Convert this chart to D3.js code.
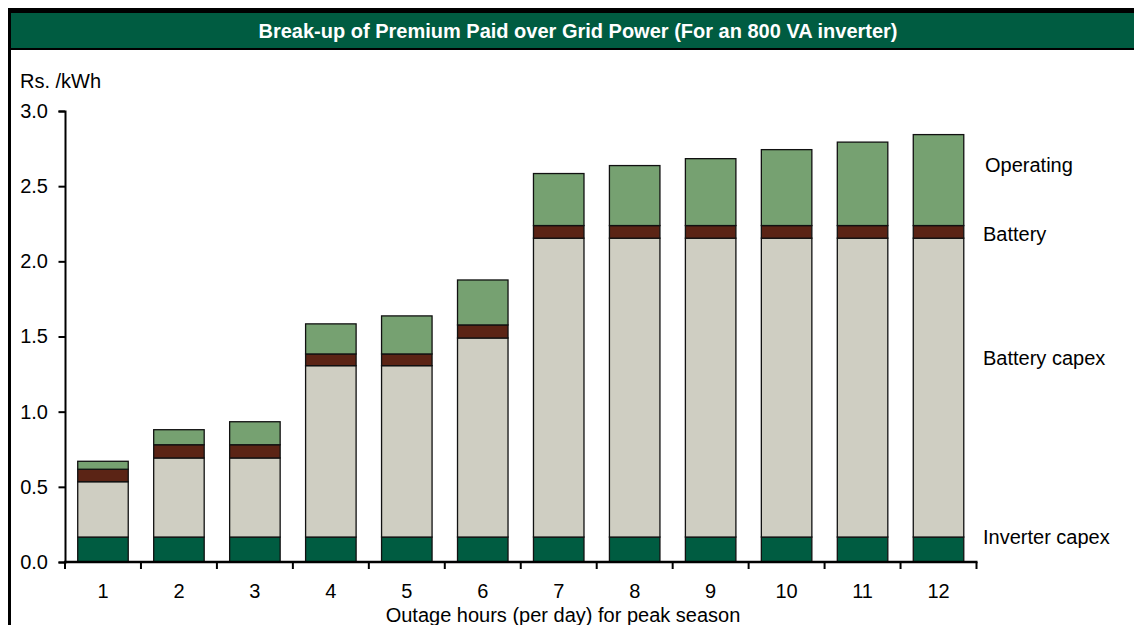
<!DOCTYPE html>
<html>
<head>
<meta charset="utf-8">
<script src="https://cdn.jsdelivr.net/npm/d3@7"></script>
<style>
html,body{margin:0;padding:0;background:#fff;}
svg{display:block;font-family:"Liberation Sans",Arial,sans-serif;}
</style>
</head>
<body>
<svg id="chart" width="1134" height="625"></svg>
<script>
const categories = ["1","2","3","4","5","6","7","8","9","10","11","12"];
const inverterCapex = [0.166,0.166,0.166,0.166,0.166,0.166,0.166,0.166,0.166,0.166,0.166,0.166];
const batteryCapex  = [0.368,0.526,0.526,1.140,1.140,1.324,1.988,1.988,1.988,1.988,1.988,1.988];
const battery       = [0.083,0.088,0.088,0.078,0.078,0.087,0.084,0.084,0.084,0.084,0.084,0.084];
const operating     = [0.053,0.100,0.153,0.200,0.253,0.299,0.346,0.399,0.445,0.505,0.555,0.605];
const seriesNames = ["Inverter capex","Battery capex","Battery","Operating"];
const seriesColors = ["#005c41","#cfcec2","#5b2415","#76a171"];
const yTicks = [0,0.5,1.0,1.5,2.0,2.5,3.0];
const title = "Break-up of Premium Paid over Grid Power (For an 800 VA inverter)";

const svg = d3.select("#chart");
const FS = 20;

// frame & title bar
svg.append("rect").attr("x",8).attr("y",8).attr("width",1126).attr("height",42).attr("fill","#000");
svg.append("rect").attr("x",11).attr("y",13).attr("width",1123).attr("height",35).attr("fill","#005c41");
svg.append("rect").attr("x",8).attr("y",8).attr("width",3).attr("height",617).attr("fill","#000");
svg.append("text").attr("x",578).attr("y",38).attr("text-anchor","middle")
  .attr("fill","#fff").attr("font-weight","bold").attr("font-size",20).text(title);

const x0 = 65, x1 = 976.5, yBase = 562, yTop = 111;
const x = d3.scaleBand().domain(categories).range([x0,x1]).paddingInner(0.335).paddingOuter(0.1675);
const y = d3.scaleLinear().domain([0,3]).range([yBase,yTop]);

const rows = categories.map((c,i)=>({cat:c,"Inverter capex":inverterCapex[i],"Battery capex":batteryCapex[i],"Battery":battery[i],"Operating":operating[i]}));
const stack = d3.stack().keys(seriesNames)(rows);

const g = svg.append("g");
stack.forEach((s,si)=>{
  g.selectAll(null).data(s).enter().append("rect")
    .attr("x",d=>x(d.data.cat))
    .attr("width",x.bandwidth())
    .attr("y",d=>y(d[1]))
    .attr("height",d=>y(d[0])-y(d[1]))
    .attr("fill",seriesColors[si])
    .attr("stroke","#111").attr("stroke-width",1.3);
});

// y axis
const yAxis = d3.axisLeft(y).tickValues(yTicks).tickFormat(d3.format(".1f")).tickSize(6.5).tickPadding(10.5);
const ya = svg.append("g").attr("transform",`translate(${x0},0)`).call(yAxis);
ya.select(".domain").attr("stroke","#000").attr("stroke-width",2);
ya.selectAll(".tick line").attr("stroke","#000").attr("stroke-width",2);
ya.selectAll("text").attr("font-size",FS).attr("fill","#000").attr("font-family","Liberation Sans, Arial, sans-serif");

// x axis
const xa = svg.append("g").attr("transform",`translate(0,${yBase})`);
xa.append("line").attr("x1",x0-1).attr("x2",x1+1).attr("y1",0).attr("y2",0).attr("stroke","#000").attr("stroke-width",2.5);
const bounds = d3.range(categories.length+1).map(i=>x0 + i*(x1-x0)/categories.length);
xa.selectAll(null).data(bounds).enter().append("line")
  .attr("x1",d=>d).attr("x2",d=>d).attr("y1",0).attr("y2",7).attr("stroke","#000").attr("stroke-width",2);
xa.selectAll(null).data(categories).enter().append("text")
  .attr("x",d=>x(d)+x.bandwidth()/2).attr("y",35.5).attr("text-anchor","middle")
  .attr("font-size",FS).attr("fill","#000").text(d=>d);

svg.append("text").attr("x",563).attr("y",622).attr("text-anchor","middle").attr("font-size",FS).attr("fill","#000")
  .text("Outage hours (per day) for peak season");
svg.append("text").attr("x",20).attr("y",87.5).attr("font-size",FS).attr("fill","#000").text("Rs. /kWh");

// series labels
const labelY = [544,365,241,171.5];
const labelX = [983,983,983,985];
seriesNames.forEach((n,i)=>{
  svg.append("text").attr("x",labelX[i]).attr("y",labelY[i]).attr("font-size",FS).attr("fill","#000").text(n);
});
</script>
</body>
</html>
